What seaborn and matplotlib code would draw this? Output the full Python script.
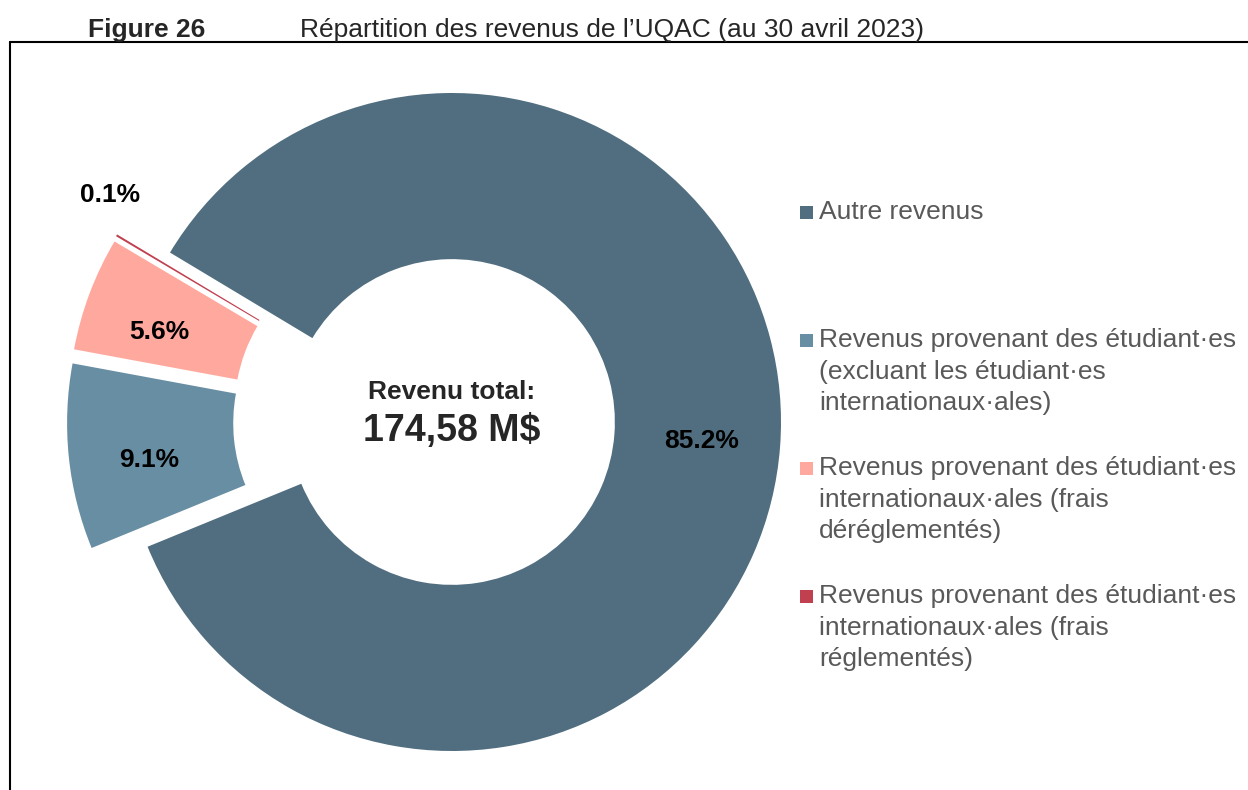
import numpy as np
import matplotlib
matplotlib.use("Agg")
import matplotlib.pyplot as plt
from matplotlib.patches import Rectangle
from matplotlib.lines import Line2D
import seaborn as sns

# ── data ──────────────────────────────────────────────
categories = [
    "Autre revenus",
    "Revenus provenant des étudiant·es\n(excluant les étudiant·es\ninternationaux·ales)",
    "Revenus provenant des étudiant·es\ninternationaux·ales (frais\ndéréglementés)",
    "Revenus provenant des étudiant·es\ninternationaux·ales (frais\nréglementés)",
]
shares = [85.2, 9.1, 5.6, 0.1]
total_label = "174,58 M$"
fig_num = "Figure 26"
fig_title = "Répartition des revenus de l’UQAC (au 30 avril 2023)"

# ── style ─────────────────────────────────────────────
colors = ["#506e80", "#688ea3", "#ffa89e", "#c04050"]
explode = [0, 0.17, 0.17, 0.17]

sns.set_theme(style="white")
plt.rcParams["font.family"] = ["Liberation Sans", "DejaVu Sans"]

W, H = 1248, 790
fig = plt.figure(figsize=(W / 100, H / 100), dpi=100)
ax = fig.add_axes([0, 0, 1, 1])

R = 329            # pie radius in px
cx, cy = 452, H - 422
PCTD = 0.76

wedges, _, pct = ax.pie(
    shares, colors=colors, startangle=149,
    counterclock=False, autopct="%1.1f%%", pctdistance=PCTD,
    wedgeprops=dict(width=0.505, linewidth=0),
    textprops=dict(fontsize=19, fontweight="bold", color="black"),
)

# explode the small slices, pulled a bit toward the group's bisector
# (mimics the way the original spreadsheet offset them)
mids = [((w.theta1 + w.theta2) / 2) % 360 for w in wedges]
exp_idx = [i for i, e in enumerate(explode) if e > 0]
grp_lo = min(wedges[i].theta1 % 360 for i in exp_idx)
grp_hi = max(wedges[i].theta2 % 360 for i in exp_idx)
grp_mid = (grp_lo + grp_hi) / 2
for i in exp_idx:
    a = np.deg2rad(0.55 * mids[i] + 0.45 * grp_mid)
    off = np.array([np.cos(a), np.sin(a)]) * explode[i]
    wedges[i].set_center(tuple(off))
    la = np.deg2rad(mids[i] + 2.5)
    pct[i].set_position((off[0] + PCTD * np.cos(la), off[1] + PCTD * np.sin(la)))

# small slice label sits outside the ring
w = wedges[-1]
ang = np.deg2rad(mids[-1] - 5)
pct[-1].set_position((w.center[0] + 1.085 * np.cos(ang),
                      w.center[1] + 1.085 * np.sin(ang)))

ax.set_xlim(-cx / R, (W - cx) / R)
ax.set_ylim(-cy / R, (H - cy) / R)
ax.set_aspect("equal")
ax.axis("off")

# centre text
ax.text(0, (422 - 392) / R, "Revenu total:",
        ha="center", va="center", fontsize=19, fontweight="bold")
ax.text(0, (422 - 431) / R, total_label,
        ha="center", va="center", fontsize=27, fontweight="bold")

# legend drawn by hand (square aligned with first line)
def fx(px): return px / W
def fy(py): return 1 - py / H

leg_y = [212, 340, 468, 596]
for lab, col, y in zip(categories, colors, leg_y):
    fig.add_artist(Rectangle((fx(800), fy(y + 7)), 13 / W, 13 / H,
                             transform=fig.transFigure, color=col, lw=0))
    fig.text(fx(819), fy(y - 12), lab, ha="left", va="top",
             fontsize=19, color="#595959", linespacing=1.4)

# heading
fig.text(fx(88), fy(30), fig_num, ha="left", va="center",
         fontsize=19, fontweight="bold")
fig.text(fx(300), fy(30), fig_title, ha="left", va="center", fontsize=19)

# frame lines
fig.add_artist(Line2D([fx(10), 1], [fy(42), fy(42)], transform=fig.transFigure,
                      color="black", lw=1.5))
fig.add_artist(Line2D([fx(10), fx(10)], [fy(42), 0], transform=fig.transFigure,
                      color="black", lw=1.5))

fig.savefig("out.png", dpi=100)
